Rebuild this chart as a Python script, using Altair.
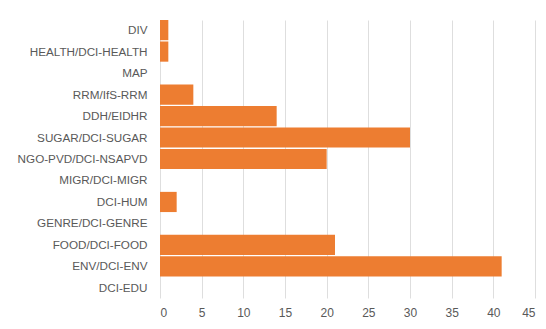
import altair as alt
import pandas as pd

categories = [
    "DIV", "HEALTH/DCI-HEALTH", "MAP", "RRM/IfS-RRM", "DDH/EIDHR",
    "SUGAR/DCI-SUGAR", "NGO-PVD/DCI-NSAPVD", "MIGR/DCI-MIGR", "DCI-HUM",
    "GENRE/DCI-GENRE", "FOOD/DCI-FOOD", "ENV/DCI-ENV", "DCI-EDU",
]
counts = [1, 1, 0, 4, 14, 30, 20, 0, 2, 0, 21, 41, 0]
x_ticks = [0, 5, 10, 15, 20, 25, 30, 35, 40, 45]

df = pd.DataFrame({"category": categories, "count": counts})

PLOT_W, PLOT_H = 375, 278
LEFT, TOP = 160, 20
FONT = "Liberation Sans"
GREY = "#595959"

bars = alt.Chart(df).mark_bar(color="#ED7D31").encode(
    x=alt.X(
        "count:Q",
        scale=alt.Scale(domain=[0, 45], nice=False),
        axis=alt.Axis(
            values=x_ticks, title=None, grid=True, gridColor="#dedede",
            gridWidth=1, domain=False, ticks=False, labelPadding=9,
            labelFont=FONT, labelFontSize=12, labelColor=GREY,
        ),
    ),
    y=alt.Y(
        "category:N",
        sort=categories,
        scale=alt.Scale(paddingInner=0.06, paddingOuter=0.0),
        axis=alt.Axis(
            title=None, domain=False, ticks=False, labelPadding=13,
            labelFont=FONT, labelFontSize=11.7, labelColor=GREY,
        ),
    ),
)

chart = bars.properties(
    width=PLOT_W, height=PLOT_H,
    autosize=alt.AutoSizeParams(type="none"),
    padding={"left": LEFT, "top": TOP, "right": 546 - LEFT - PLOT_W,
             "bottom": 329 - TOP - PLOT_H},
    background="white",
).configure_view(stroke=None)

chart.save("out.html", embed_options={"renderer": "svg", "actions": False})
